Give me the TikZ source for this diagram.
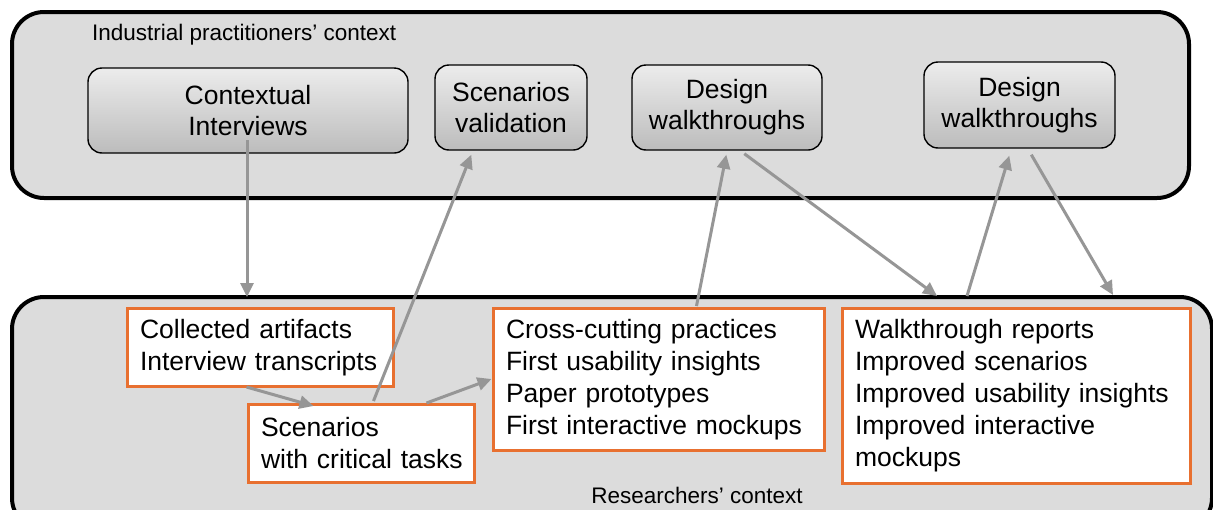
\documentclass[tikz,border=0pt]{standalone}
\usepackage{fontspec}
\setmainfont{Liberation Sans}
\usetikzlibrary{arrows.meta,calc}
\definecolor{ctxfill}{RGB}{220,220,220}
\definecolor{arrgray}{RGB}{150,150,150}
\definecolor{orangeb}{RGB}{232,112,48}
\definecolor{boxtop}{RGB}{236,236,236}
\definecolor{boxbot}{RGB}{188,188,188}
\tikzset{
  ctx/.style={draw=black,line width=4pt,fill=ctxfill,rounded corners=32pt},
  activity/.style={draw=black,line width=1.4pt,rounded corners=14pt,top color=boxtop,bottom color=boxbot,
    align=center,inner sep=0pt,font=\fontsize{26.5}{31}\selectfont},
  artifact/.style={draw=orangeb,line width=3pt,fill=white,align=left,inner xsep=13pt,inner ysep=0pt,
    font=\fontsize{26.5}{32}\selectfont},
  ctxlabel/.style={font=\fontsize{22.5}{27}\selectfont,inner sep=0pt},
  arr/.style={draw=arrgray,line width=3pt,-{Triangle[length=14pt,width=13pt]}},
}
\begin{document}
\begin{tikzpicture}[x=1pt,y=-1pt]
\useasboundingbox (0,0) rectangle (1213,509);
\clip (0,0) rectangle (1213,509);
% contexts
\draw[ctx] (12,12) rectangle (1189,198);
\draw[ctx] (12,297) rectangle (1212,530);
\node[ctxlabel,anchor=west] (ind) at (92,35) {Industrial practitioners’ context};
\node[ctxlabel] (res) at (697,495) {Researchers’ context};
% activities
\node[activity,minimum width=320pt,minimum height=85pt] (ci) at (248,110.5) {Contextual\\Interviews};
\node[activity,minimum width=152pt,minimum height=85pt] (sv) at (511,107.5) {Scenarios\\validation};
\node[activity,minimum width=190pt,minimum height=85pt] (dw1) at (727,107.5) {Design\\walkthroughs};
\node[activity,minimum width=191pt,minimum height=86pt] (dw2) at (1019.5,105) {Design\\walkthroughs};
% artifacts
\node[artifact,text width=240pt,minimum height=78pt] (ca) at (260,347.5) {Collected artifacts\\Interview transcripts};
\node[artifact,text width=200pt,minimum height=78pt] (sc) at (361,443.5) {Scenarios\\\mbox{with critical tasks}};
\node[artifact,text width=305pt,minimum height=142pt] (cc) at (658.5,379.5) {Cross-cutting practices\\First usability insights\\Paper prototypes\\First interactive mockups};
\node[artifact,text width=322pt,minimum height=175pt] (wr) at (1016,396) {Walkthrough reports\\Improved scenarios\\Improved usability insights\\Improved interactive\\mockups};
% arrow end points
\coordinate (a1s) at (247,140);
\coordinate (a1e) at (247,297);
\coordinate (w1) at (937,296);
\coordinate (w2) at (967,296);
\coordinate (w3) at (1113,295);
% arrows
\draw[arr] (a1s) -- (a1e);
\draw[arr] ($(ca.south west)+(121,-1)$) -- ($(sc.north west)+(67,3)$);
\draw[arr] ($(sc.north west)+(127,-2)$) -- ($(sv.south west)+(37,4)$);
\draw[arr] ($(sc.north west)+(180,0)$) -- ($(cc.north west)+(0,72)$);
\draw[arr] ($(cc.north west)+(205,-1)$) -- ($(dw1.south west)+(95,4)$);
\draw[arr] ($(dw1.south west)+(113,3)$) -- (w1);
\draw[arr] (w2) -- ($(dw2.south west)+(86,7)$);
\draw[arr] ($(dw2.south west)+(108,6)$) -- (w3);
\end{tikzpicture}
\end{document}
